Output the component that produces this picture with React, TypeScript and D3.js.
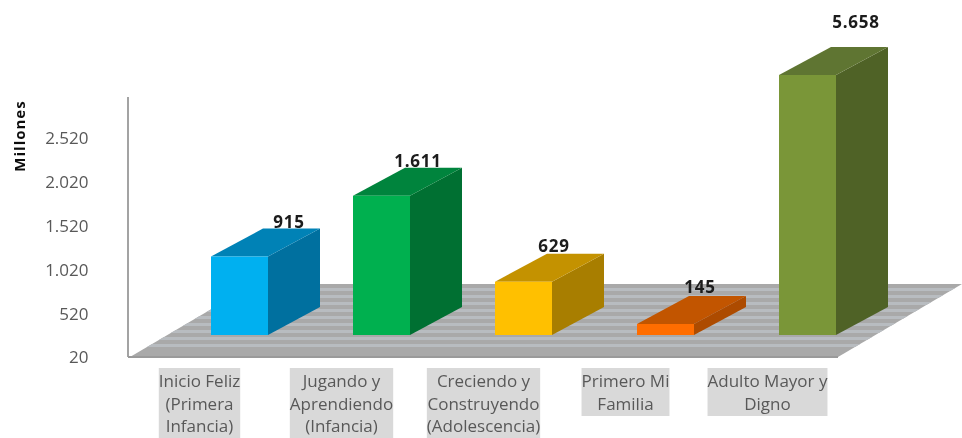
import React from "react";
import * as d3 from "d3";

const categories = ["Inicio Feliz", "Jugando y", "Creciendo y", "Primero Mi", "Adulto Mayor y"];
const categoryLines = [
  ["Inicio Feliz", "(Primera", "Infancia)"],
  ["Jugando y", "Aprendiendo", "(Infancia)"],
  ["Creciendo y", "Construyendo", "(Adolescencia)"],
  ["Primero Mi", "Familia"],
  ["Adulto Mayor y", "Digno"],
];
const values = [915, 1611, 629, 145, 5658];
const yTicks = [20, 520, 1020, 1520, 2020, 2520];
const frontColors = ["#00b0f0", "#00b050", "#ffc000", "#ff6d00", "#7a9639"];
const topColors = ["#0082b6", "#00843c", "#c49200", "#c25400", "#5f7530"];
const sideColors = ["#006f9f", "#006f30", "#a87e00", "#ad4c00", "#4f6228"];

const AXIS_MAX = 2988;
const W = 962, H = 438;
const FONT = "'Open Sans', sans-serif";
const locale = d3.formatLocale({ decimal: ",", thousands: ".", grouping: [3], currency: ["", ""] });
const fmt = locale.format(",d");

const y = d3.scaleLinear().domain([20, AXIS_MAX]).range([357, 97]).clamp(true);
const x = d3.scalePoint<string>().domain(categories).range([211, 779]);
const BAR_W = 57, DX = 52, DY = -28, LIFT = 22;
const labelShift = [21, 8, 2, 6, 20];
const labelRise = [7, 7, 8, 9, 25];
const CAT_SIZE = 17;
const poly = d3.line();

function textWidth(s: string) {
  const c = document.createElement("canvas").getContext("2d")!;
  c.font = `${CAT_SIZE}px 'Open Sans'`;
  return c.measureText(s).width;
}

export default function App() {
  const floor = poly([[130, 357], [838, 357], [962, 284], [254, 284]])! + "Z";
  const stripes = d3.range(288, 346, 7);
  return (
    <svg width={W} height={H} style={{ position: "absolute", left: 0, top: 0, fontFamily: FONT }}>
      <defs>
        <filter id="soft" x="-5%" y="-5%" width="110%" height="110%">
          <feGaussianBlur stdDeviation="0.7" />
        </filter>
        <clipPath id="floorClip"><path d={floor} /></clipPath>
      </defs>
      <rect width={W} height={H} fill="#fff" />
      <g filter="url(#soft)">
        <path d={floor} fill="#a9a9a9" />
        <g clipPath="url(#floorClip)">
          {stripes.map((s) => (
            <rect key={s} x={130} y={s} width={832} height={3} fill="#b8bcc0" />
          ))}
        </g>
        <line x1={128} x2={128} y1={97} y2={357} stroke="#a3a3a3" strokeWidth={2} />
        <line x1={128} x2={838} y1={357} y2={357} stroke="#9a9a9a" strokeWidth={2} />

        {yTicks.map((t) => (
          <text key={t} x={88.5} y={y(t)} dy="0.38em" textAnchor="end" fontSize={17} fill="#595959">
            {fmt(t)}
          </text>
        ))}
        <text transform="translate(25,136) rotate(-90)" textAnchor="middle" fontSize={15} letterSpacing={1} fontWeight={700} fill="#111">
          Millones
        </text>

        {categories.map((c, i) => {
          const l = x(c)!;
          const r = l + BAR_W;
          const base = y(20) - LIFT;
          const top = y(values[i]) - LIFT;
          const front = poly([[l, top], [r, top], [r, base], [l, base]])! + "Z";
          const topFace = poly([[l, top], [r, top], [r + DX, top + DY], [l + DX, top + DY]])! + "Z";
          const side = poly([[r, top], [r + DX, top + DY], [r + DX, base + DY], [r, base]])! + "Z";
          return (
            <g key={c}>
              <path d={side} fill={sideColors[i]} />
              <path d={topFace} fill={topColors[i]} />
              <path d={front} fill={frontColors[i]} />
            </g>
          );
        })}

        {categories.map((c, i) => {
          const l = x(c)!;
          const top = y(values[i]) - LIFT;
          return (
            <text key={c} x={l + BAR_W + labelShift[i]} y={top + DY - labelRise[i]} dy="0.36em"
              textAnchor="middle" fontSize={17} letterSpacing={0.8} fontWeight={700} fill="#1a1a1a">
              {fmt(values[i])}
            </text>
          );
        })}

        {categories.map((c, i) => {
          const cx = x(c)! + BAR_W / 2 - 40;
          const lines = categoryLines[i];
          const w = Math.max(...lines.map(textWidth));
          return (
            <g key={c}>
              <rect x={cx - w / 2} y={368} width={w} height={lines.length === 3 ? 70 : 48} fill="#d9d9d9" />
              {lines.map((t, k) => (
                <text key={t} x={cx} y={381.5 + k * 22.5} dy="0.34em" textAnchor="middle" fontSize={CAT_SIZE} fill="#595959">
                  {t}
                </text>
              ))}
            </g>
          );
        })}
      </g>
    </svg>
  );
}
